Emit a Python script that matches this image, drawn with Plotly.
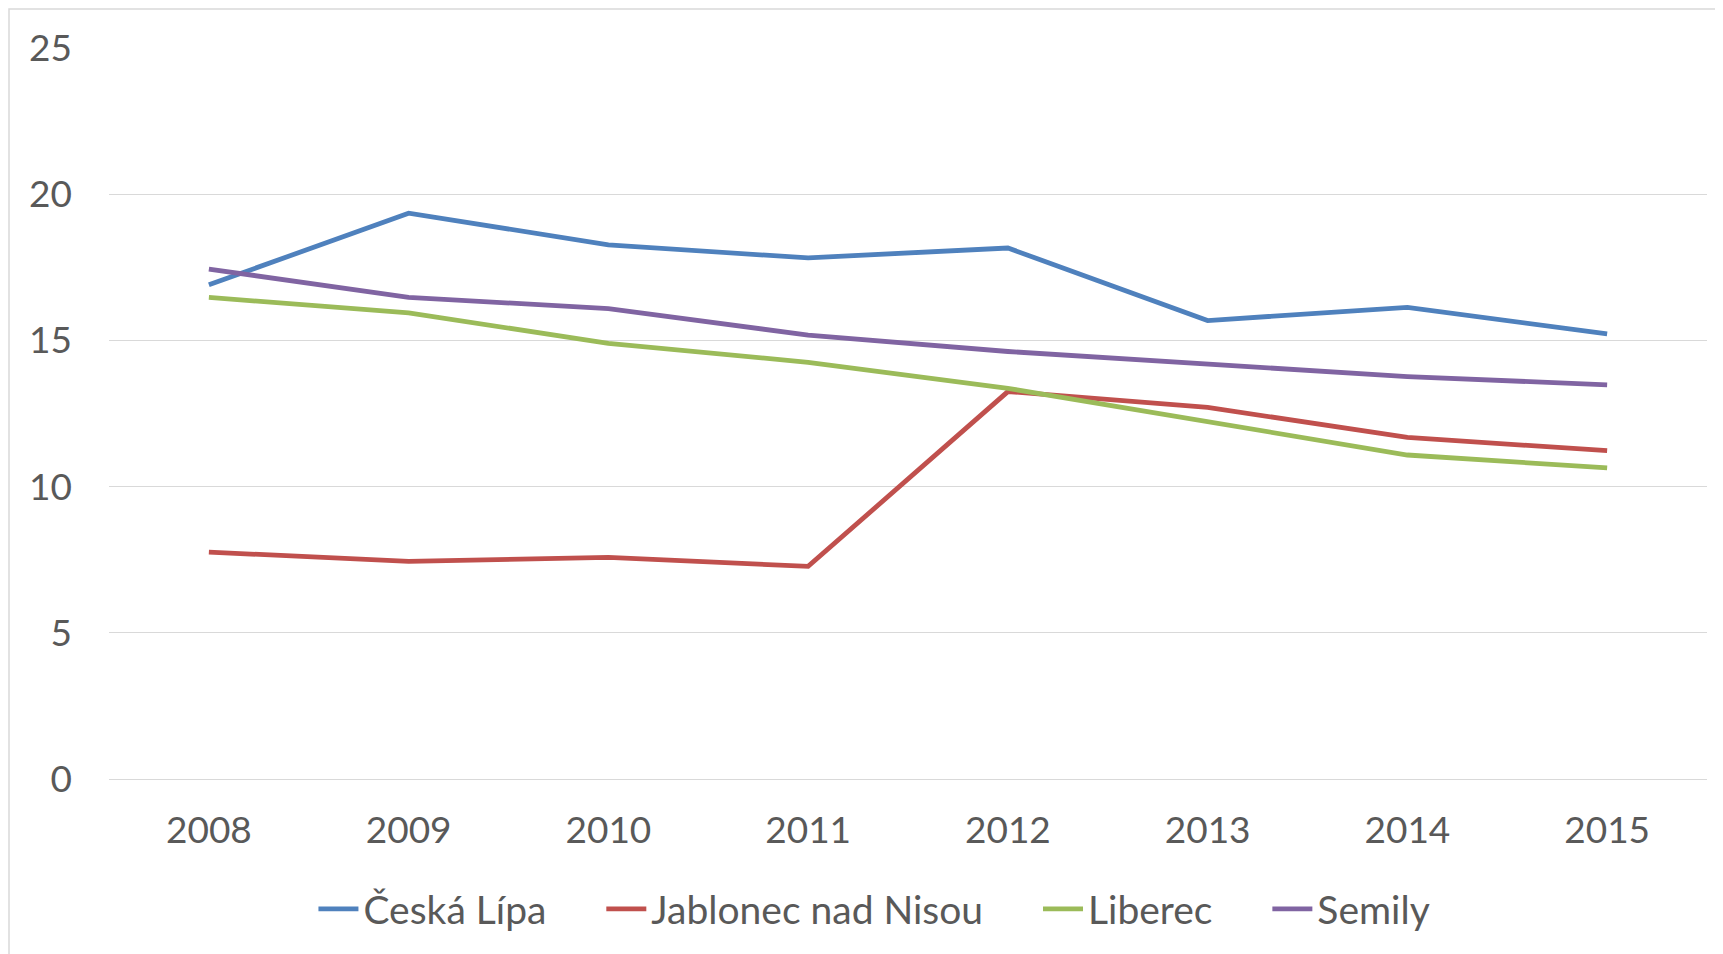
import plotly.graph_objects as go

# Years on the category axis
YEARS = ["2008", "2009", "2010", "2011", "2012", "2013", "2014", "2015"]

# Values
CESKA_LIPA = [16.9, 19.35, 18.27, 17.82, 18.16, 15.68, 16.13, 15.22]
JABLONEC = [7.76, 7.44, 7.58, 7.27, 13.25, 12.71, 11.68, 11.23]
LIBEREC = [16.47, 15.94, 14.9, 14.25, 13.36, 12.24, 11.08, 10.64]
SEMILY = [17.44, 16.47, 16.09, 15.18, 14.62, 14.2, 13.76, 13.48]

Y_TICKS = [0, 5, 10, 15, 20, 25]

SERIES = [
    ("Česká Lípa", CESKA_LIPA, "#4F81BD"),
    ("Jablonec nad Nisou", JABLONEC, "#C0504D"),
    ("Liberec", LIBEREC, "#9BBB59"),
    ("Semily", SEMILY, "#8064A2"),
]

FONT = "Lato, 'Open Sans', sans-serif"
TEXT_COLOR = "#595959"
GRID_COLOR = "#D9D9D9"
LEGEND_PAD = "\u00a0" * 5  # widen the gap between legend entries

# The browser adds an 8px body margin, so the figure is 8px smaller
# and every position below is in figure pixels (page pixel - 8).
W, H = 1715, 946
L, T, R, B = 101, 40, 16, 175
PW, PH = W - L - R, H - T - B

fig = go.Figure()
for i, (name, values, colour) in enumerate(SERIES):
    label = name if i == len(SERIES) - 1 else name + LEGEND_PAD
    fig.add_trace(
        go.Scatter(
            x=YEARS,
            y=values,
            mode="lines",
            name=label,
            line=dict(color=colour, width=4.8),
        )
    )

fig.update_layout(
    width=W,
    height=H,
    margin=dict(l=L, r=R, t=T, b=B),
    paper_bgcolor="white",
    plot_bgcolor="white",
    font=dict(family=FONT, size=37, color=TEXT_COLOR),
    showlegend=True,
    legend=dict(
        orientation="h",
        x=0.479,
        xanchor="center",
        y=-0.178,
        yanchor="middle",
        font=dict(family=FONT, size=39, color=TEXT_COLOR),
        itemwidth=40,
    ),
    xaxis=dict(
        type="category",
        range=[-0.5, len(YEARS) - 0.5],
        showgrid=False,
        zeroline=False,
        showline=False,
        ticks="",
        ticklabelstandoff=26,
        tickfont=dict(family=FONT, size=37, color=TEXT_COLOR),
    ),
    yaxis=dict(
        range=[0, 25],
        tickvals=Y_TICKS,
        showgrid=True,
        gridcolor=GRID_COLOR,
        gridwidth=1.3,
        zeroline=True,
        zerolinecolor=GRID_COLOR,
        zerolinewidth=1.3,
        showline=False,
        ticks="",
        ticklabelstandoff=36,
        tickfont=dict(family=FONT, size=37, color=TEXT_COLOR),
    ),
)

# Light chart-area border (left and top edges visible in the page)
fig.add_shape(
    type="rect",
    xref="paper",
    yref="paper",
    x0=(1 - L) / PW,
    x1=(W + 20 - L) / PW,
    y0=-(B + 20) / PH,
    y1=(PH + T - 1) / PH,
    line=dict(color=GRID_COLOR, width=1.5),
    fillcolor="rgba(0,0,0,0)",
    layer="below",
)

fig.write_html("out.html")
